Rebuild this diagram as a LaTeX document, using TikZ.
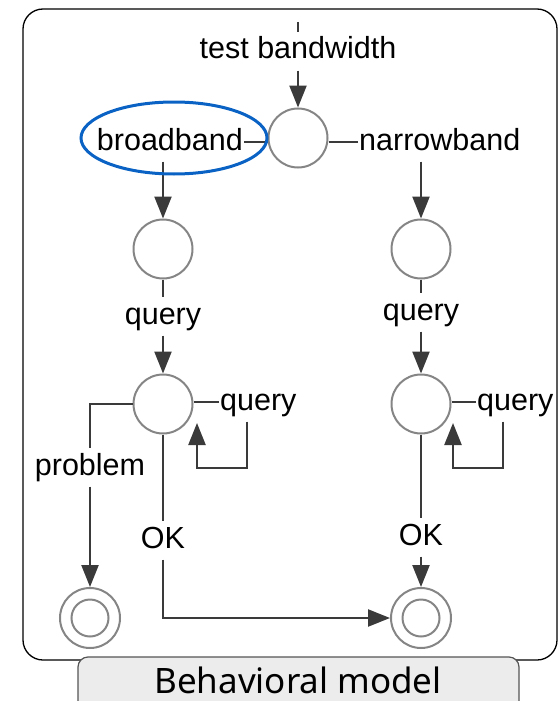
\documentclass[tikz,border=0pt]{standalone}
\usepackage{fontspec}
\setmainfont{Liberation Sans}
\newfontfamily\labelfont{Noto Sans}
\usetikzlibrary{arrows.meta}
\definecolor{edgegray}{HTML}{3A3A3A}
\definecolor{circgray}{HTML}{858585}
\definecolor{hlblue}{HTML}{0A63C4}
\definecolor{boxfill}{HTML}{ECECEC}
\definecolor{boxline}{HTML}{555555}
\begin{document}
\begin{tikzpicture}[x=1pt,y=-1pt,
  state/.style={circle, draw=circgray, line width=2pt, minimum size=59pt, inner sep=0pt},
  final/.style={state, minimum size=60pt,
    path picture={\draw[circgray, line width=2pt] (path picture bounding box.center) circle[radius=18.5pt];}},
  lbl/.style={font=\fontsize{30.5}{36}\selectfont, text height=22pt, text depth=6.5pt,
    inner xsep=1pt, inner ysep=5pt, anchor=base},
  conn/.style={draw=edgegray, line width=2.4pt},
  arr/.style={conn, -{Triangle[length=22pt,width=17pt]}}]
\useasboundingbox (0,0) rectangle (559,701);
% frame
\draw[line width=1.3pt, rounded corners=20pt] (23,9) rectangle (557,660);
\draw[fill=boxfill, draw=boxline, line width=1.2pt, rounded corners=10pt] (78,657) rectangle (519,720);
\node[font=\labelfont\fontsize{35}{42}\selectfont, anchor=base, inner sep=0pt] (bm) at (298,693) {Behavioral model};
% states
\node[state] (c0) at (298,138) {};
\node[state] (l1) at (163,249) {};
\node[state] (r1) at (421,249) {};
\node[state] (l2) at (163,404) {};
\node[state] (r2) at (421,404) {};
\node[final] (fl) at (90,618) {};
\node[final] (fr) at (421,618) {};
% labels
\node[lbl] (tb) at (298,59) {test bandwidth};
\node[lbl, anchor=base east] (bb) at (244,150) {broadband};
\node[lbl, anchor=base west] (nb) at (358,150) {narrowband};
\node[lbl] (ql) at (163,324) {query};
\node[lbl] (qr) at (421,320) {query};
\node[lbl, anchor=base west] (qsl) at (219,410) {query};
\node[lbl, anchor=base west] (qsr) at (476,410) {query};
\node[lbl] (pb) at (90,475) {problem};
\node[lbl] (okl) at (163,548) {OK};
\node[lbl] (okr) at (421,545) {OK};
% coordinates
\coordinate (start) at (298,22);
\coordinate (lls) at (247,468);
\coordinate (lle) at (197,423);
\coordinate (rls) at (503,468);
\coordinate (rle) at (453,423);
% connectors
\draw[conn] (start) -- (tb);
\draw[arr] (tb) -- (c0);
\draw[conn] (bb.east) -- (bb.east -| c0.west);
\draw[conn] (nb.west) -- (nb.west -| c0.east);
\draw[arr] (l1 |- bb.south) -- (l1);
\draw[arr] (r1 |- nb.south) -- (r1);
\draw[conn] (l1) -- (ql);
\draw[arr] (ql) -- (l2);
\draw[conn] (r1) -- (qr);
\draw[arr] (qr) -- (r2);
\draw[conn] (qsl.west) -- (qsl.west -| l2.east);
\draw[conn] (qsr.west) -- (qsr.west -| r2.east);
\draw[arr] (qsl.south -| lls) -- (lls) -| (lle);
\draw[arr] (qsr.south -| rls) -- (rls) -| (rle);
\draw[conn] (l2.west) -| (pb);
\draw[arr] (pb) -- (fl);
\draw[conn] (l2) -- (okl);
\draw[arr] (okl) |- (fr);
\draw[conn] (r2) -- (okr);
\draw[arr] (okr) -- (fr);
% highlight
\draw[hlblue, line width=3pt] (174,138) ellipse[x radius=93pt, y radius=36pt];
\end{tikzpicture}
\end{document}
